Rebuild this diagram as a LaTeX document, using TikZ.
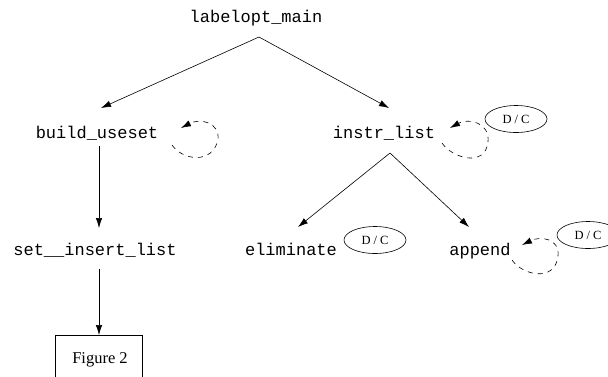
\documentclass[tikz,border=0pt]{standalone}
\usepackage{fontspec}
\setmainfont{Liberation Serif}
\setmonofont{Liberation Mono}
\usetikzlibrary{arrows.meta,shapes.geometric}
\begin{document}
\begin{tikzpicture}[x=1pt,y=-1pt,
  func/.style={font=\ttfamily\fontsize{17}{17}\selectfont,inner sep=0pt,anchor=base},
  call/.style={draw,line width=0.6pt,-{Latex[length=10pt,width=6.5pt]}},
  selfcall/.style={call,dash pattern=on 5pt off 5pt},
  dc/.style={draw,ellipse,line width=0.6pt,minimum width=62pt,minimum height=27pt,inner sep=0pt,
    font=\fontsize{12.5}{12.5}\selectfont},
  figbox/.style={draw,line width=0.6pt,minimum width=87pt,minimum height=60pt,inner sep=0pt,anchor=north}]
\useasboundingbox (0,0) rectangle (608,376);

% call tree
\node[func] (main) at (256,22) {labelopt\_main};
\node[func] (bu)   at (97,138) {build\_useset};
\node[func] (il)   at (384,138) {instr\_list};
\node[func] (sil)  at (95,255) {set\_\_insert\_list};
\node[func] (el)   at (291,255) {eliminate};
\node[func] (ap)   at (480,255) {append};
\node[figbox] (fig) at (99,335) {};
\node[font=\fontsize{16.5}{16.5}\selectfont,inner sep=0pt,anchor=base] (figtxt) at (100,363) {Figure 2};

% "don't care" markers
\node[dc] (dc1) at (516,119) {D\hspace{3pt}/\hspace{3pt}C};
\node[dc] (dc2) at (375,240) {D\hspace{3pt}/\hspace{3pt}C};
\node[dc] (dc3) at (588,235) {D\hspace{3pt}/\hspace{3pt}C};

% branch points below the callers, and arrow ends above the callees
\coordinate (mainfork) at (259,37);
\coordinate (ilfork) at (390,153);
\coordinate (bufork) at (99,146);
\coordinate (silfork) at (99,269);
\coordinate (butip) at (101,108);
\coordinate (iltip) at (389,108);
\coordinate (eltip) at (298,227);
\coordinate (aptip) at (469,227);
\coordinate (siltip) at (99,228);

\path[call] (mainfork) -- (butip);
\path[call] (mainfork) -- (iltip);
\path[call] (ilfork) -- (eltip);
\path[call] (ilfork) -- (aptip);
\path[call] (bufork) -- (siltip);
\path[call] (silfork) -- (fig.north);

% recursive calls
\path[selfcall] (172,145) .. controls (182,160) and (212,165) .. (218,140)
  .. controls (220,122) and (200,118) .. (181,128);
\path[selfcall] (442,143) .. controls (452,158) and (485,168) .. (488,142)
  .. controls (490,122) and (468,118) .. (450,128);
\path[selfcall] (512,260) .. controls (522,275) and (555,283) .. (558,256)
  .. controls (560,238) and (540,236) .. (522,245);
\end{tikzpicture}
\end{document}
